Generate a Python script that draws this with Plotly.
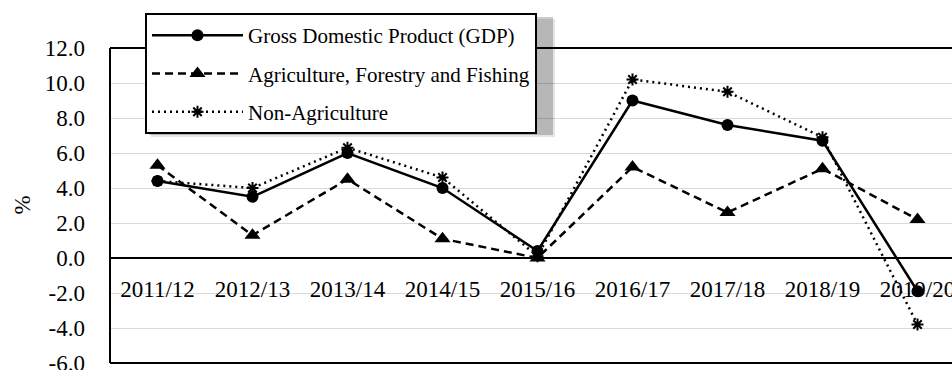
import plotly.graph_objects as go

categories = ["2011/12", "2012/13", "2013/14", "2014/15", "2015/16",
              "2016/17", "2017/18", "2018/19", "2019/20"]
gdp = [4.4, 3.5, 6.0, 4.0, 0.4, 9.0, 7.6, 6.7, -1.9]
agri = [5.3, 1.3, 4.5, 1.1, 0.0, 5.2, 2.6, 5.1, 2.2]
non_agri = [4.4, 4.0, 6.3, 4.6, 0.1, 10.2, 9.5, 6.9, -3.8]
y_ticks = [-6, -4, -2, 0, 2, 4, 6, 8, 10, 12]
y_tick_labels = ["%.1f" % v for v in y_ticks]
y_title = "%"

FONT = "Liberation Serif, Times New Roman, serif"
W, H = 952, 370
ML, MR, MT, MB = 110, 0, 48, 7
PW, PH = W - ML - MR, H - MT - MB

def px_x(p):
    return (p - ML) / PW

def px_y(p):
    return (H - MB - p) / PH

fig = go.Figure()
fig.add_trace(go.Scatter(
    x=categories, y=gdp, name="Gross Domestic Product (GDP)",
    mode="lines+markers", legendgroup="a",
    line=dict(color="black", width=2.5),
    marker=dict(symbol="circle", size=12, color="black")))
fig.add_trace(go.Scatter(
    x=categories, y=agri, name="Agriculture, Forestry and Fishing",
    mode="lines+markers", legendgroup="b",
    line=dict(color="black", width=2.5, dash="8px,5px"),
    marker=dict(symbol="triangle-up", size=14, color="black")))
fig.add_trace(go.Scatter(
    x=categories, y=non_agri, name="Non-Agriculture",
    mode="lines+markers", legendgroup="c",
    line=dict(color="black", width=2.5, dash="2px,4px"),
    marker=dict(symbol="asterisk-open", size=10, color="black",
                line=dict(color="black", width=2))))

fig.update_layout(
    template="none",
    width=W, height=H,
    margin=dict(l=ML, r=MR, t=MT, b=MB, pad=0, autoexpand=False),
    paper_bgcolor="white", plot_bgcolor="white",
    font=dict(family=FONT, size=23, color="black"),
    showlegend=True,
    legend=dict(
        x=px_x(145), y=px_y(13), xanchor="left", yanchor="top",
        bgcolor="white", bordercolor="black", borderwidth=2,
        font=dict(family=FONT, size=21, color="black"),
        traceorder="grouped", tracegroupgap=8, itemwidth=91,
    ),
    xaxis=dict(
        type="category", categoryorder="array", categoryarray=categories,
        range=[-0.5, -0.5 + PW / 95.0], automargin=False,
        anchor="free", position=6 / 18,
        showline=True, linecolor="black", linewidth=2,
        showgrid=False, zeroline=False, ticks="",
        ticklabelstandoff=10, layer="below traces",
        tickfont=dict(family=FONT, size=23, color="black"),
    ),
    yaxis=dict(
        range=[-6, 12], tickvals=y_ticks, ticktext=y_tick_labels,
        automargin=False,
        showgrid=True, gridcolor="#d9d9d9", gridwidth=1,
        zeroline=False, showline=False, ticks="",
        ticklabelstandoff=24, ticklabeloverflow="allow",
        tickfont=dict(family=FONT, size=23, color="black"),
    ),
    annotations=[
        dict(text=y_title, xref="paper", yref="paper", x=px_x(22), y=0.5,
             xanchor="center", yanchor="middle", textangle=-90,
             showarrow=False, font=dict(family=FONT, size=23, color="black")),
    ],
    shapes=[
        dict(type="rect", xref="paper", yref="paper",
             x0=px_x(151), x1=px_x(555), y0=px_y(137), y1=px_y(19),
             fillcolor="rgba(0,0,0,0.10)", line=dict(width=0), layer="above"),
        dict(type="rect", xref="paper", yref="paper",
             x0=px_x(149), x1=px_x(553), y0=px_y(135), y1=px_y(17),
             fillcolor="rgba(0,0,0,0.20)", line=dict(width=0), layer="above"),
        dict(type="line", xref="paper", yref="paper", x0=0, x1=0, y0=0, y1=1,
             line=dict(color="black", width=2)),
        dict(type="line", xref="paper", yref="paper", x0=0, x1=1, y0=1, y1=1,
             line=dict(color="black", width=2)),
        dict(type="line", xref="paper", yref="paper", x0=0, x1=1, y0=0, y1=0,
             line=dict(color="black", width=2)),
    ],
)

fig.write_html("out.html")
